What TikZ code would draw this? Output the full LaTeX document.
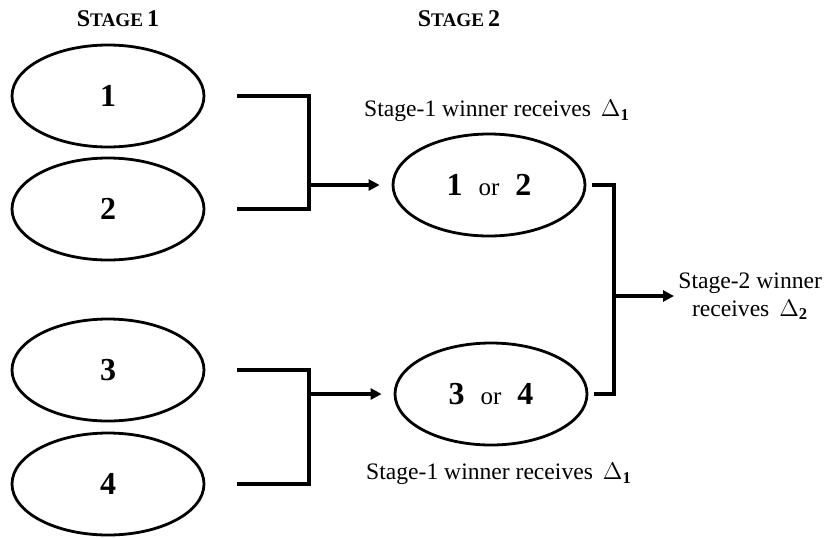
\documentclass[tikz,border=0pt]{standalone}
\usepackage{fontspec}
\setmainfont{Liberation Serif}
\usetikzlibrary{shapes.geometric,arrows.meta,positioning,calc}
\newcommand{\stagehead}[1]{\textbf{S{\fontsize{9.6}{11}\selectfont TAGE}\,#1}}
\newcommand{\seed}[1]{{\fontsize{16}{18}\selectfont\bfseries #1}}

\begin{document}
\begin{tikzpicture}[x=0.5pt,y=-0.5pt,font=\fontsize{11.8}{14}\selectfont,
  joueur/.style={ellipse,draw,line width=1.4pt,minimum width=96pt,minimum height=51pt,inner sep=0pt},
  trait/.style={line width=1.75pt},
  fleche/.style={trait,-{Triangle[length=5.5pt,width=5.5pt]}}]
  \useasboundingbox (0,0) rectangle (824,537);
  % en-tetes
  \node[font=\fontsize{12}{14}\selectfont] (h1) at (118,19) {\stagehead{1}};
  \node[font=\fontsize{12}{14}\selectfont] (h2) at (459,19) {\stagehead{2}};
  % joueurs stage 1
  \foreach \n/\y in {1/96,2/209,3/370,4/484}
    \node[joueur] (p\n) at (108,\y) {\seed{\n}};
  % matchs stage 2
  \node[joueur,font=\fontsize{12.5}{14}\selectfont] (s12) at (489,185)
    {\seed{1}\hspace{8pt}or\hspace{8pt}\seed{2}};
  \node[joueur,font=\fontsize{12.5}{14}\selectfont] (s34) at (491,394)
    {\seed{3}\hspace{8pt}or\hspace{8pt}\seed{4}};
  % gains
  \node (g12) at (497,111) {Stage-1 winner receives\hspace{5pt}$\Delta_{\mathbf{1}}$};
  \node (g34) at (499,474) {Stage-1 winner receives\hspace{5pt}$\Delta_{\mathbf{1}}$};
  \node[align=center,anchor=west,inner sep=2pt] (champ) at (674,296)
    {Stage-2 winner\\receives\hspace{5pt}$\Delta_{\mathbf{2}}$};
  % jonctions
  \coordinate (j1) at (309,0);
  \coordinate (j2) at (614,0);
  \foreach \a/\b/\s in {p1/p2/s12,p3/p4/s34} {
    \draw[trait] ([xshift=16pt]\a.east) -| (j1 |- \b.east) -- ([xshift=16pt]\b.east);
    \draw[fleche] (j1 |- \s.west) -- ([xshift=-6pt]\s.west);
  }
  \draw[trait] ([xshift=3pt]s12.east) -| (j2 |- s34.east) -- ([xshift=3pt]s34.east);
  \draw[fleche] (j2 |- champ.west) -- (champ.west);
\end{tikzpicture}
\end{document}
